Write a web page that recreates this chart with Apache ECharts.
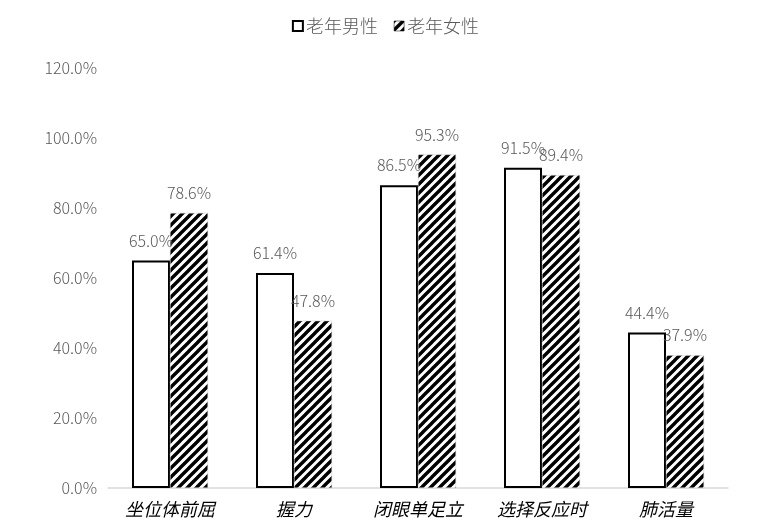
<!DOCTYPE html>
<html>
<head>
<meta charset="utf-8">
<script src="https://cdn.jsdelivr.net/npm/echarts@6/dist/echarts.min.js"></script>
<style>
  html, body { margin: 0; padding: 0; background: #fff; }
  #main { width: 771px; height: 532px; }
</style>
</head>
<body>
<div id="main"></div>
<script>
// 数据
const categories = ['坐位体前屈', '握力', '闭眼单足立', '选择反应时', '肺活量']
const maleValues = [65.0, 61.4, 86.5, 91.5, 44.4]
const femaleValues = [78.6, 47.8, 95.3, 89.4, 37.9]
const seriesNames = ['老年男性', '老年女性']

// 斜线填充
function makeHatch () {
  const size = 9
  const c = document.createElement('canvas')
  c.width = size
  c.height = size
  const ctx = c.getContext('2d')
  ctx.fillStyle = '#fff'
  ctx.fillRect(0, 0, size, size)
  ctx.strokeStyle = '#000'
  ctx.lineWidth = 3.4
  ctx.beginPath()
  for (let k = -1; k <= 1; k++) {
    ctx.moveTo(k * size - 1, size + 1)
    ctx.lineTo(k * size + size + 1, -1)
  }
  ctx.stroke()
  return c
}
const hatch = { image: makeHatch(), repeat: 'repeat' }

const numFont = '"Noto Sans CJK SC", sans-serif'
const chart = echarts.init(document.getElementById('main'))
const option = {
  animation: false,
  backgroundColor: '#fff',
  legend: {
    top: 12,
    left: 'center',
    itemWidth: 10,
    itemHeight: 10,
    itemGap: 16,
    textStyle: { color: '#595959', fontSize: 18, padding: [0, 0, 0, -2], fontWeight: 300, fontFamily: '"Noto Sans CJK SC", sans-serif' },
    data: [
      { name: seriesNames[0], icon: 'rect', itemStyle: { color: '#fff', borderColor: '#000', borderWidth: 2 } },
      { name: seriesNames[1], icon: 'rect', itemStyle: { color: hatch, borderColor: '#000', borderWidth: 0.5 } }
    ]
  },
  grid: { left: 108, right: 43, top: 68, bottom: 44 },
  xAxis: {
    type: 'category',
    data: categories,
    axisLine: { lineStyle: { color: '#d9d9d9', width: 1.5 } },
    axisTick: { show: false },
    axisLabel: {
      color: '#000',
      fontSize: 18,
      fontStyle: 'italic',
      margin: 12,
      fontFamily: '"Noto Sans CJK SC", sans-serif'
    }
  },
  yAxis: {
    type: 'value',
    min: 0,
    max: 120,
    interval: 20,
    splitLine: { show: false },
    axisLine: { show: false },
    axisTick: { show: false },
    axisLabel: {
      color: '#595959',
      fontSize: 16,
      fontWeight: 300,
      margin: 11,
      fontFamily: numFont,
      formatter: v => v.toFixed(1) + '%'
    }
  },
  series: [
    {
      name: seriesNames[0],
      type: 'bar',
      barWidth: 38,
      barGap: '0%',
      data: maleValues,
      itemStyle: { color: '#fff', borderColor: '#000', borderWidth: 2 },
      label: {
        show: true,
        position: 'top',
        distance: 12,
        color: '#595959',
        fontSize: 16,
        fontWeight: 300,
        fontFamily: numFont,
        formatter: p => p.value.toFixed(1) + '%'
      }
    },
    {
      name: seriesNames[1],
      type: 'bar',
      barWidth: 38,
      data: femaleValues,
      itemStyle: { color: hatch, borderColor: '#ccc', borderWidth: 0.5 },
      label: {
        show: true,
        position: 'top',
        distance: 12,
        color: '#595959',
        fontSize: 16,
        fontWeight: 300,
        fontFamily: numFont,
        formatter: p => p.value.toFixed(1) + '%'
      }
    }
  ]
}
chart.setOption(option)
</script>
</body>
</html>
